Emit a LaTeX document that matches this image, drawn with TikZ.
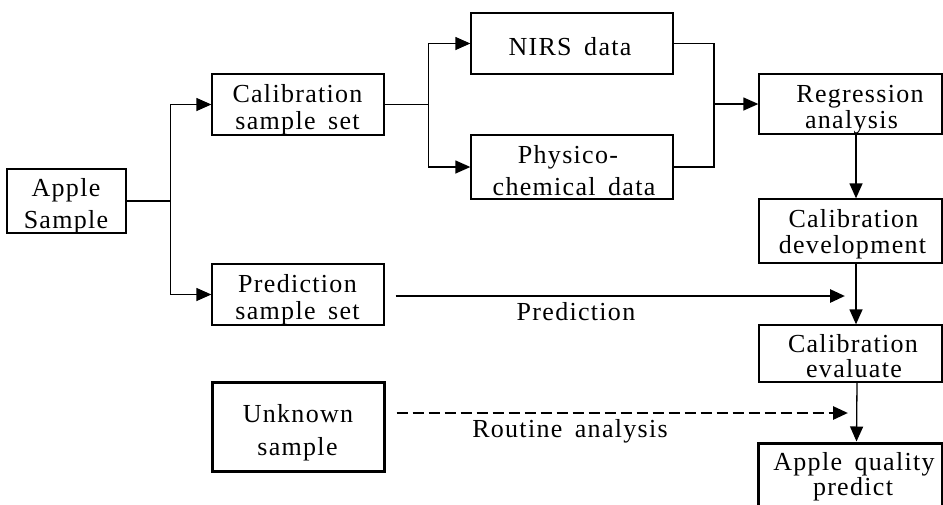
\documentclass[tikz,border=0pt]{standalone}
\usepackage{fontspec}
\setmainfont{Liberation Serif}[LetterSpace=5,WordSpace=1.6]
\usetikzlibrary{arrows.meta}

\begin{document}
\begin{tikzpicture}[x=1pt,y=-1pt,
  box/.style={draw, line width=1.3pt, inner sep=0pt},
  boldbox/.style={box, line width=3pt},
  txt/.style={inner sep=0pt, anchor=base, font=\fontsize{26}{28}\selectfont},
  link/.style={line width=1.3pt},
  flow/.style={line width=1.3pt, -{Triangle[length=15pt,width=13pt]}},
  mainflow/.style={line width=2.8pt, -{Triangle[length=15pt,width=13pt]}},
  routine/.style={line width=2.8pt, dash pattern=on 11pt off 5pt,
    -{Triangle[length=15pt,width=13pt]}}]
\useasboundingbox (0,0) rectangle (943,504);

% boxes
\node[box, minimum width=119pt, minimum height=64pt] (apple) at (66.5,201) {};
\node[box, minimum width=172pt, minimum height=61pt] (calib) at (298,104.5) {};
\node[box, minimum width=172pt, minimum height=61pt] (pred) at (298,294.5) {};
\node[boldbox, minimum width=172pt, minimum height=89pt] (unk) at (298,426.5) {};
\node[box, minimum width=202pt, minimum height=61pt] (nirs) at (572,43.5) {};
\node[box, minimum width=202pt, minimum height=64pt] (phys) at (572,167) {};
\node[box, minimum width=183pt, minimum height=60pt] (regr) at (850.5,104) {};
\node[box, minimum width=183pt, minimum height=64pt] (dev) at (850.5,231) {};
\node[box, minimum width=183pt, minimum height=57pt] (eval) at (850.5,353.5) {};
\node[boldbox, minimum width=184pt, minimum height=76pt] (aqp) at (850,481) {};

% box texts, one node per line, placed on their baselines
\node[txt] (t1) at (66,196) {Apple};
\node[txt] (t2) at (66,228) {Sample};
\node[txt] (t3) at (297.5,102) {Calibration};
\node[txt] (t4) at (297.5,129) {sample set};
\node[txt] (t5) at (297.5,292) {Prediction};
\node[txt] (t6) at (297.5,319) {sample set};
\node[txt] (t7) at (298,422) {Unknown};
\node[txt] (t8) at (297.5,455) {sample};
\node[txt] (t9) at (570,55) {NIRS data};
\node[txt] (t10) at (568,163) {Physico-};
\node[txt] (t11) at (574,195) {chemical data};
\node[txt] (t12) at (860,102) {Regression};
\node[txt] (t13) at (851.5,128) {analysis};
\node[txt] (t14) at (853.5,227) {Calibration};
\node[txt] (t15) at (852.5,253) {development};
\node[txt] (t16) at (853,352) {Calibration};
\node[txt] (t17) at (854,377) {evaluate};
\node[txt] (t18) at (854,470) {Apple quality};
\node[txt] (t19) at (853,495) {predict};

% branching from the apple sample
\draw[link] (apple.east) -- ++(44,0) coordinate (b1);
\draw[flow] (b1) |- (calib.west);
\draw[flow] (b1) |- (pred.west);

% branching from the calibration set
\draw[link] (calib.east) -- ++(44,0) coordinate (b2);
\draw[flow] (b2) |- (nirs.west);
\draw[flow] (b2) |- (phys.west);

% merging into regression
\coordinate (b3) at (714,104);
\draw[link] (nirs.east) -- (nirs.east -| b3) -- (phys.east -| b3) -- (phys.east);
\draw[flow] (b3) -- (regr.west);

% right column chain
\draw[flow] ([xshift=5.5pt]regr.south) -- ([xshift=5.5pt]dev.north);
\draw[flow] ([xshift=5.5pt]dev.south) -- ([xshift=5.5pt]eval.north);
\draw[flow] ([xshift=6.5pt]eval.south) -- ([xshift=6.5pt]aqp.north);

% prediction and routine analysis
\coordinate (pj) at (845,296);
\coordinate (rj) at (848,413);
\draw[mainflow] ([xshift=11pt]pred.east |- pj) -- (pj);
\draw[routine] ([xshift=11pt]unk.east |- rj) -- (rj);
\node[txt] (plbl) at (576,320) {Prediction};
\node[txt] (rlbl) at (570,437) {Routine analysis};
\end{tikzpicture}
\end{document}
